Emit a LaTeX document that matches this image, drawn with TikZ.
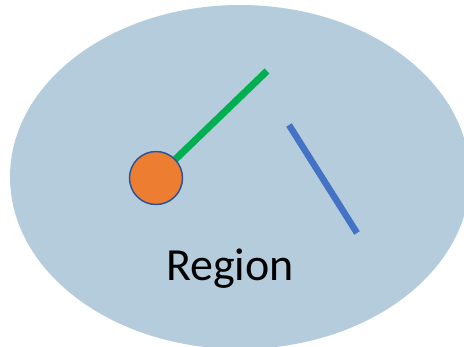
\documentclass[tikz,border=0pt]{standalone}
\usepackage{fontspec}
\setmainfont{Carlito}
\usepackage{tikz}
\usetikzlibrary{backgrounds}
\definecolor{regionfill}{HTML}{B4CCDC}
\definecolor{ballfill}{HTML}{ED7D31}
\definecolor{balldraw}{HTML}{2F5597}
\definecolor{armgreen}{HTML}{00B050}
\definecolor{barblue}{HTML}{4472C4}
\tikzset{
  ball/.style={circle, fill=ballfill, draw=balldraw, line width=1.5pt,
               minimum size=53pt, inner sep=0pt},
  arm/.style={draw=armgreen, line width=7pt},
  bar/.style={draw=barblue, line width=6.5pt},
  label/.style={font=\fontsize{46}{50}\selectfont, text=black, inner sep=0pt},
}
\begin{document}
\begin{tikzpicture}[x=1pt, y=-1pt]
  \useasboundingbox (0,0) rectangle (464,346);

  \node[ball] (ball) at (156,178) {};
  \coordinate (armtip) at (267,71);
  \coordinate (bartop) at (289,125);
  \coordinate (barend) at (357,233);

  \draw[bar] (bartop) -- (barend);
  \node[label, anchor=base] (name) at (230,280) {Region};

  % region and arm behind the ball
  \begin{scope}[on background layer]
    \clip (0,0) rectangle (464,346);
    \fill[regionfill] (240,177) ellipse [x radius=230, y radius=172];
    \draw[arm] (ball.center) -- (armtip);
  \end{scope}
\end{tikzpicture}
\end{document}
